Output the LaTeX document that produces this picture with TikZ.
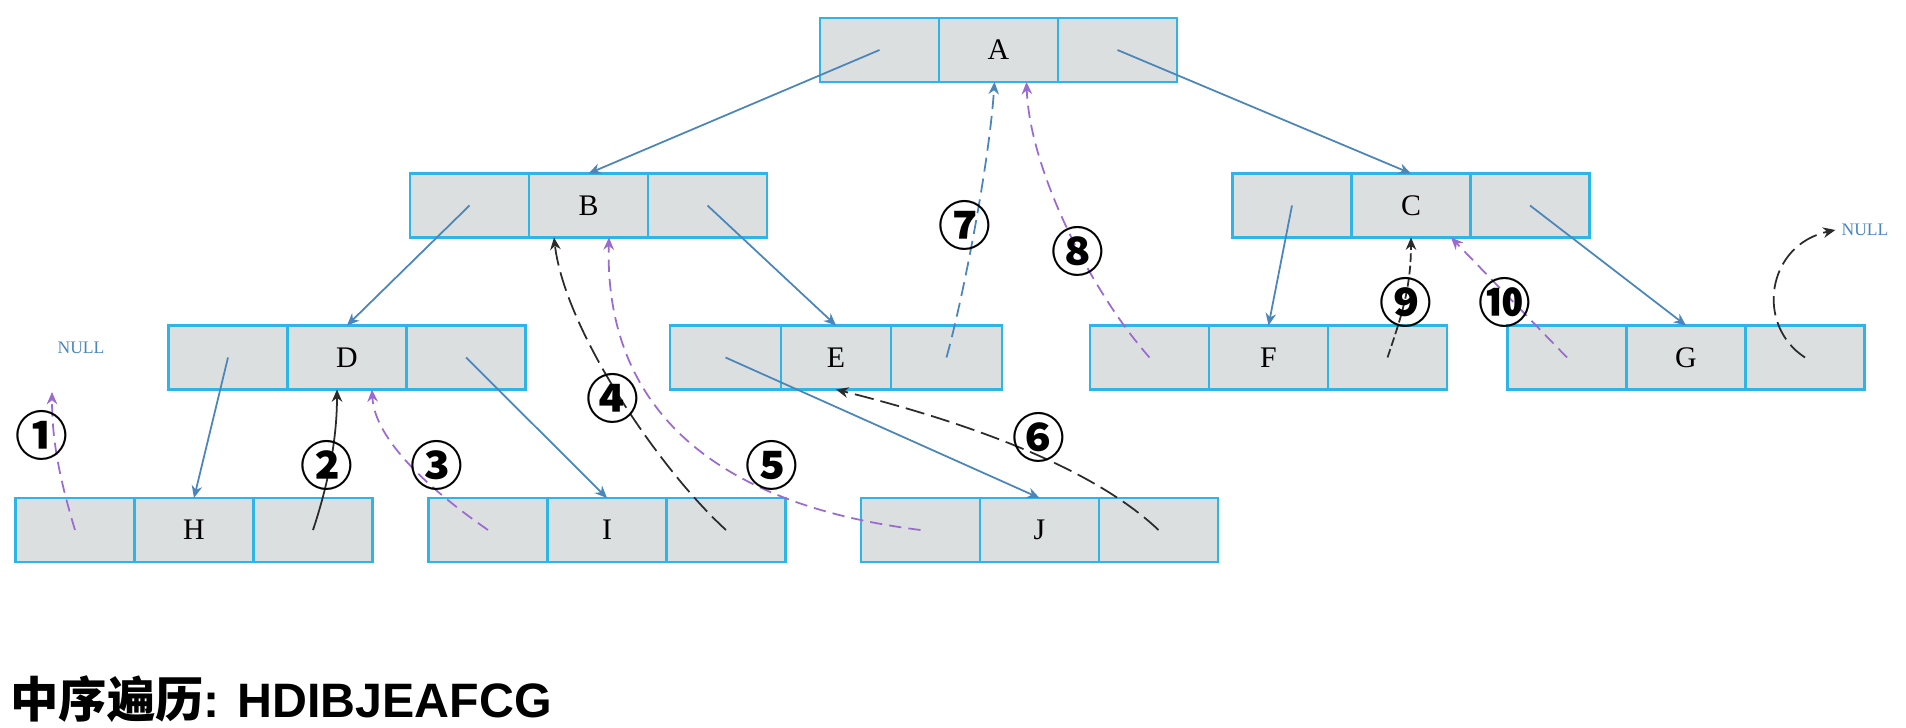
\documentclass[tikz,border=0pt]{standalone}
\usepackage{fontspec}
\setmainfont{Liberation Serif}
\newfontfamily\cjk{Noto Sans CJK SC}
\newfontfamily\headsans{Liberation Sans}
\usetikzlibrary{arrows.meta,positioning}

\definecolor{cellline}{HTML}{2CB5E6}
\definecolor{cellfill}{HTML}{DCDFE0}
\definecolor{ptrblue}{HTML}{4A86BA}
\definecolor{thrpurple}{HTML}{9B6BCF}
\definecolor{thrblack}{HTML}{2B2B2B}

\begin{document}
\begin{tikzpicture}[
  cell/.style={rectangle, draw=cellline, fill=cellfill, line width=1.4pt, minimum width=2.38cm, minimum height=1.28cm, inner sep=0pt, outer sep=0pt, font=\fontsize{17}{17}\selectfont},
  ecell/.style={cell, minimum width=2.21cm},
  ptr/.style={->, draw=ptrblue, line width=1pt},
  thr/.style={->, line width=1pt},
  pdash/.style={thrpurple, dash pattern=on 7pt off 4pt},
  kdash/.style={thrblack, dash pattern=on 11pt off 4pt},
  bdash/.style={ptrblue, dash pattern=on 8pt off 4pt},
  sdash/.style={thrblack, dash pattern=on 5pt off 2pt},
  num/.style={font=\cjk\bfseries\fontsize{30}{30}\selectfont, inner sep=0pt},
  nul/.style={text=ptrblue, font=\fontsize{10}{10}\selectfont},
  node distance=0pt,
  >={Stealth[length=7pt,width=6pt]}
]
\useasboundingbox (0,0) rectangle (38.12,-14.56);

% nodes: left pointer | data | right pointer
\node[cell] (A) at (19.97,-1.0) {A};
\node[cell, left=of A] (Al) {};
\node[cell, right=of A] (Ar) {};

\node[cell] (B) at (11.77,-4.11) {B};
\node[cell, left=of B] (Bl) {};
\node[cell, right=of B] (Br) {};

\node[cell] (C) at (28.22,-4.11) {C};
\node[cell, left=of C] (Cl) {};
\node[cell, right=of C] (Cr) {};

\node[cell] (D) at (6.94,-7.15) {D};
\node[cell, left=of D] (Dl) {};
\node[cell, right=of D] (Dr) {};

\node[ecell] (E) at (16.72,-7.15) {E};
\node[ecell, left=of E] (El) {};
\node[ecell, right=of E] (Er) {};

\node[cell] (F) at (25.37,-7.15) {F};
\node[cell, left=of F] (Fl) {};
\node[cell, right=of F] (Fr) {};

\node[cell] (G) at (33.72,-7.15) {G};
\node[cell, left=of G] (Gl) {};
\node[cell, right=of G] (Gr) {};

\node[cell] (H) at (3.88,-10.6) {H};
\node[cell, left=of H] (Hl) {};
\node[cell, right=of H] (Hr) {};

\node[cell] (I) at (12.14,-10.6) {I};
\node[cell, left=of I] (Il) {};
\node[cell, right=of I] (Ir) {};

\node[cell] (J) at (20.79,-10.6) {J};
\node[cell, left=of J] (Jl) {};
\node[cell, right=of J] (Jr) {};

\node[nul] (nullL) at (1.62,-6.96) {NULL};
\node[nul] (nullR) at (37.3,-4.6) {NULL};
\coordinate (nullLtip) at (1.04,-7.84);

% child pointers
\draw[ptr] (Al.center) -- (B.north);
\draw[ptr] (Ar.center) -- (C.north);
\draw[ptr] (Bl.center) -- (D.north);
\draw[ptr] (Br.center) -- (E.north);
\draw[ptr] (Cl.center) -- (F.north);
\draw[ptr] (Cr.center) -- (G.north);
\draw[ptr] (Dl.center) -- (H.north);
\draw[ptr] (Dr.center) -- (I.north);
\draw[ptr] (El.center) -- (J.north);

% threads
\draw[thr, pdash] (Hl.center) .. controls +(-0.3,1.0) and +(0,-1.0) .. (nullLtip);
\draw[thr, thrblack] (Hr.center) .. controls +(0.3,0.9) and +(0,-1.0) .. ([xshift=-0.2cm]D.south);
\draw[thr, pdash] (Il.center) .. controls +(-1.16,0.8) and +(0.05,-1.0) .. ([xshift=0.5cm]D.south);
\draw[thr, kdash] (Ir.center) .. controls +(-1.32,1.2) and +(0.22,-1.86) .. ([xshift=-0.69cm]B.south);
\draw[thr, pdash] (Jl.center) .. controls +(-4.8,0.6) and +(-0.08,-2.86) .. ([xshift=0.41cm]B.south);
\draw[thr, kdash] (Jr.center) .. controls +(-1.37,1.3) and +(2.48,-0.62) .. (E.south);
\draw[thr, bdash] (Er.center) .. controls +(0.37,1.35) and +(-0.1,-1.54) .. ([xshift=-0.08cm]A.south);
\draw[thr, pdash] (Fl.center) .. controls +(-1.19,1.35) and +(0.06,-1.74) .. ([xshift=0.56cm]A.south);
\draw[thr, sdash] (Fr.center) .. controls +(0.25,0.75) and +(0,-1.06) .. (C.south);
\draw[thr, pdash] (Gl.center) -- ([xshift=0.8cm]C.south);
\draw[thr, kdash] (Gr.center) .. controls +(-1.0,0.65) and +(-1.38,-0.3) .. (nullR.west);

% step numbers
\node[num] (n1) at (0.84,-8.7) {①};
\node[num] (n2) at (6.54,-9.3) {②};
\node[num] (n3) at (8.74,-9.3) {③};
\node[num] (n4) at (12.26,-7.96) {④};
\node[num] (n5) at (15.44,-9.3) {⑤};
\node[num] (n6) at (20.78,-8.74) {⑥};
\node[num] (n7) at (19.3,-4.5) {⑦};
\node[num] (n8) at (21.56,-5.02) {⑧};
\node[num] (n9) at (28.12,-6.04) {⑨};
\node[num] (n10) at (30.1,-6.04) {⑩};

\node[anchor=base west, inner sep=0pt, font=\fontsize{27.5}{27.5}\selectfont\bfseries] (order) at (0.2,-14.36) {{\cjk 中序遍历}{\headsans : HDIBJEAFCG}};
\end{tikzpicture}
\end{document}
